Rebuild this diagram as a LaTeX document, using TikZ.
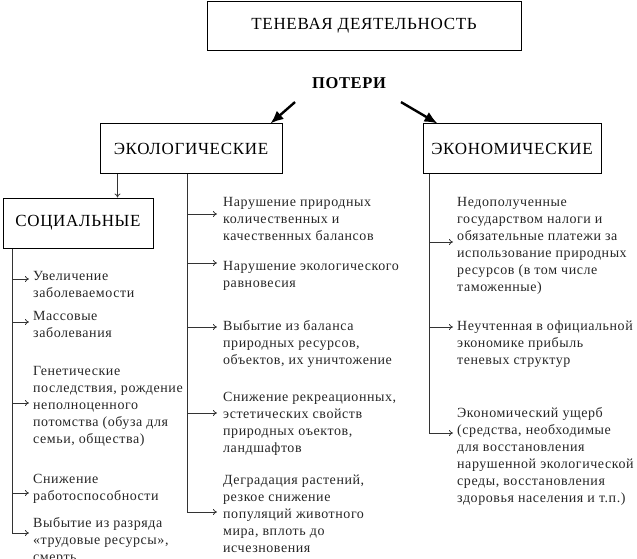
\documentclass[tikz,border=0pt]{standalone}
\usepackage{fontspec}
\setmainfont{Liberation Serif}[LetterSpace=4]
\usetikzlibrary{arrows.meta,positioning}

\begin{document}
\begin{tikzpicture}[
    x=1pt, y=-1pt,
    box/.style={draw, line width=1pt, inner sep=0pt, minimum height=49pt, font=\fontsize{17}{20}\selectfont},
    item/.style={anchor=north west, inner sep=0pt, align=left, text=black!85, font=\fontsize{14}{17}\selectfont},
    line/.style={draw=black!80, line width=0.8pt},
    arr/.style={line, -{To[length=4pt,width=6pt]}},
    bigarrow/.style={line width=2.4pt, -{Latex[length=13pt,width=11pt]}}
]
    \useasboundingbox (0,0) rectangle (637,559);

    % headings
    \node[box, minimum width=314pt] (ten) at (364,26) {ТЕНЕВАЯ ДЕЯТЕЛЬНОСТЬ};
    \node[font=\fontsize{16.5}{19}\selectfont\bfseries] (poteri) at (349,83) {ПОТЕРИ};
    \node[box, minimum width=182pt] (ekol) at (191,148.5) {ЭКОЛОГИЧЕСКИЕ};
    \node[box, minimum width=178pt, right=140pt of ekol] (ekon) {ЭКОНОМИЧЕСКИЕ};
    \node[box, minimum width=150pt, minimum height=50pt] (soc) at (78,223) {СОЦИАЛЬНЫЕ};

    \draw[bigarrow] ([xshift=-54,yshift=-10]poteri.south) -- ([xshift=-12]ekol.north east);
    \draw[bigarrow] ([xshift=52,yshift=-10]poteri.south) -- ([xshift=15]ekon.north west);

    % social items
    \node[item] (s1) at (33,271) {Увеличение\\заболеваемости};
    \node[item] (s2) at (33,311) {Массовые\\заболевания};
    \node[item] (s3) at (33,366) {Генетические\\последствия, рождение\\неполноценного\\потомства (обуза для\\семьи, общества)};
    \node[item] (s4) at (33,474) {Снижение\\работоспособности};
    \node[item] (s5) at (33,517) {Выбытие из разряда\\«трудовые ресурсы»,\\смерть};

    % ecological items
    \node[item] (e1) at (223,197) {Нарушение природных\\количественных и\\качественных балансов};
    \node[item] (e2) at (223,261) {Нарушение экологического\\равновесия};
    \node[item] (e3) at (223,320) {Выбытие из баланса\\природных ресурсов,\\объектов, их уничтожение};
    \node[item] (e4) at (223,392) {Снижение рекреационных,\\эстетических свойств\\природных оъектов,\\ландшафтов};
    \node[item] (e5) at (223,475) {Деградация растений,\\резкое снижение\\популяций животного\\мира, вплоть до\\исчезновения};

    % economic items
    \node[item] (n1) at (457,197) {Недополученные\\государством налоги и\\обязательные платежи за\\использование природных\\ресурсов (в том числе\\таможенные)};
    \node[item] (n2) at (457,321) {Неучтенная в официальной\\экономике прибыль\\теневых структур};
    \node[item] (n3) at (457,407) {Экономический ущерб\\(средства, необходимые\\для восстановления\\нарушенной экологической\\среды, восстановления\\здоровья населения и т.п.)};

    % trunks
    \coordinate (tE) at ([xshift=88]ekol.south west);
    \coordinate (tS) at ([xshift=10]soc.south west);
    \coordinate (tN) at ([xshift=7]ekon.south west);

    \draw[arr] ([xshift=18]ekol.south west) -- ([xshift=18]ekol.south west |- soc.north);

    \draw[arr] (tE) |- ([xshift=-6,yshift=-37]e5.north west);
    \draw[arr] ([yshift=-17]e1.north west -| tE) -- ([xshift=-6,yshift=-17]e1.north west);
    \draw[arr] ([yshift=-2]e2.north west -| tE) -- ([xshift=-6,yshift=-2]e2.north west);
    \draw[arr] ([yshift=-7]e3.north west -| tE) -- ([xshift=-6,yshift=-7]e3.north west);
    \draw[arr] ([yshift=-21]e4.north west -| tE) -- ([xshift=-6,yshift=-21]e4.north west);

    \draw[arr] (tS) |- ([xshift=-4,yshift=-16]s5.north west);
    \draw[arr] ([yshift=-8]s1.north west -| tS) -- ([xshift=-4,yshift=-8]s1.north west);
    \draw[arr] ([yshift=-11]s2.north west -| tS) -- ([xshift=-4,yshift=-11]s2.north west);
    \draw[arr] ([yshift=-37]s3.north west -| tS) -- ([xshift=-4,yshift=-37]s3.north west);
    \draw[arr] ([yshift=-19]s4.north west -| tS) -- ([xshift=-4,yshift=-19]s4.north west);

    \draw[arr] (tN) |- ([xshift=-4,yshift=-26]n3.north west);
    \draw[arr] ([yshift=-45]n1.north west -| tN) -- ([xshift=-4,yshift=-45]n1.north west);
    \draw[arr] ([yshift=-6]n2.north west -| tN) -- ([xshift=-4,yshift=-6]n2.north west);
\end{tikzpicture}
\end{document}
